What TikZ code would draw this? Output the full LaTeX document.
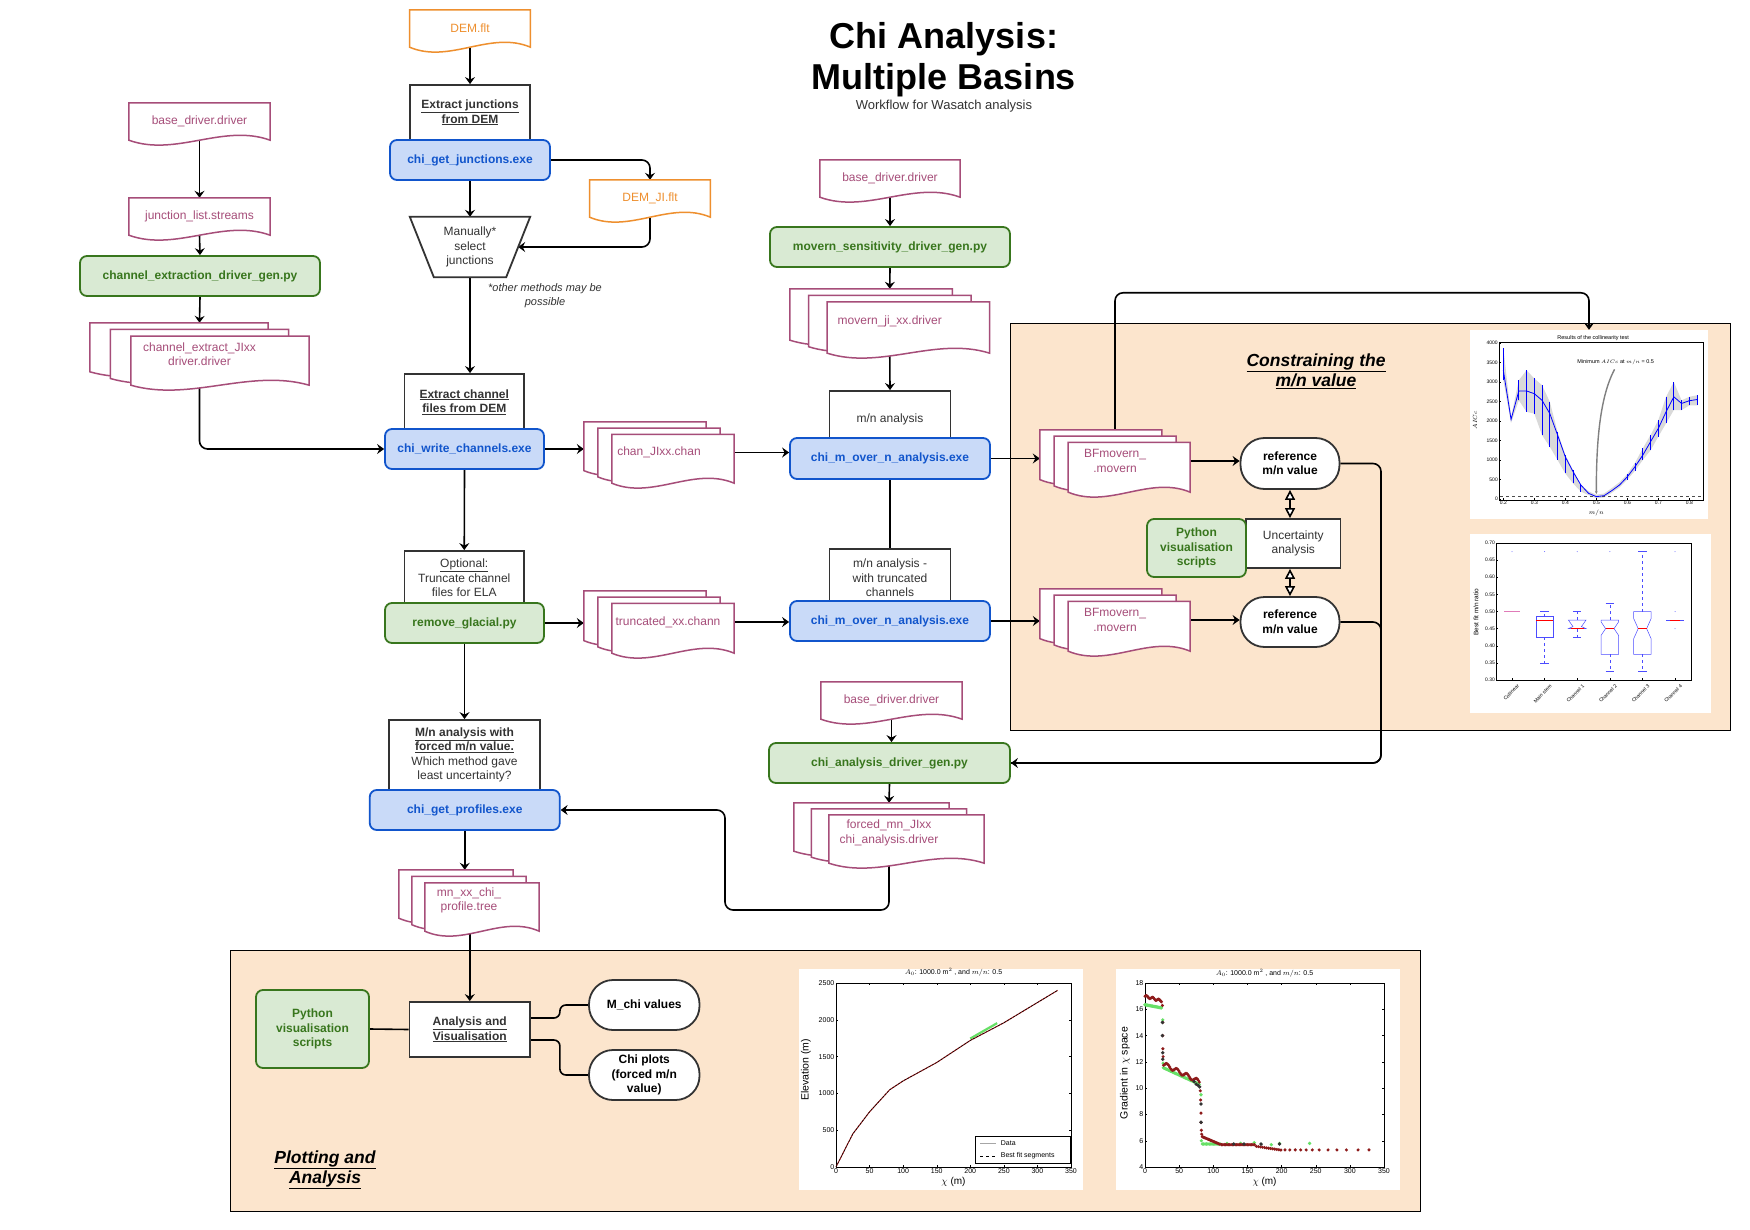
\documentclass[tikz,border=0pt]{standalone}
\usepackage{fontspec}
\setmainfont{Liberation Sans}
\usetikzlibrary{arrows.meta,calc}
\definecolor{docp}{HTML}{A64D79}
\definecolor{orng}{HTML}{EE8F2E}
\definecolor{bstr}{HTML}{1155CC}
\definecolor{bfil}{HTML}{C9DAF8}
\definecolor{gstr}{HTML}{38761D}
\definecolor{gfil}{HTML}{D9EAD3}
\definecolor{pan}{HTML}{FCE5CD}
\definecolor{ink}{HTML}{333333}
\definecolor{dred}{HTML}{8E1B1B}
\definecolor{lgreen}{HTML}{66E066}
\definecolor{pinkl}{HTML}{E07BB8}
\pgfdeclarelayer{panel}\pgfdeclarelayer{edges}\pgfdeclarelayer{shapes}
\pgfsetlayers{panel,edges,shapes,main}
\newcommand\docbox[3]{\filldraw[#3] let \p1=#1, \p2=#2 in (\x1,\y1) -- (\x2,\y1) -- (\x2,\y2) .. controls ({\x2+(\x1-\x2)/3},{\y2+17pt}) and ({\x2+2*(\x1-\x2)/3},{\y2-17pt}) .. (\x1,\y2) -- cycle;}
\newcommand\docof[2]{\begin{pgfonlayer}{shapes}\docbox{(#1.north west)}{(#1.south east)}{#2}\end{pgfonlayer}}
\newcommand\mdocof[4]{\begin{pgfonlayer}{shapes}%
\docbox{(#1.north west)}{($(#1.south east)+(-2*#2,-2*#3)$)}{#4}%
\docbox{($(#1.north west)+(#2,#3)$)}{($(#1.south east)+(-#2,-#3)$)}{#4}%
\docbox{($(#1.north west)+(2*#2,2*#3)$)}{(#1.south east)}{#4}%
\end{pgfonlayer}}
\begin{document}
\begin{tikzpicture}[x=1pt,y=-1pt,
  base/.style={inner sep=0pt, align=center, text=ink, font=\fontsize{12}{14.5}\selectfont},
  wh/.style 2 args={minimum width=#1pt, minimum height=#2pt},
  bluebox/.style={base, draw=bstr, fill=bfil, line width=1.8pt, rounded corners=7pt, text=bstr, font=\bfseries\fontsize{12}{14.5}\selectfont},
  greenbox/.style={base, draw=gstr, fill=gfil, line width=1.8pt, rounded corners=7pt, text=gstr, font=\bfseries\fontsize{12}{14.5}\selectfont},
  plainbox/.style={base, draw=ink, fill=white, line width=1.8pt},
  stadium/.style={base, draw=ink, fill=white, line width=1.8pt, rounded corners=24pt, text=black, font=\bfseries\fontsize{12}{14.5}\selectfont},
  doctext/.style={base, text=docp},
  orgtext/.style={base, text=orng},
  docline/.style={draw=docp, fill=white, line width=1.5pt},
  orgline/.style={draw=orng, fill=white, line width=1.5pt},
  conn/.style={draw=black, line width=1.6pt},
  arr/.style={conn, -{Stealth[length=7pt,width=10pt,inset=2.5pt]}},
  dbl/.style={conn, {Triangle[open,length=10pt,width=10pt,fill=white]}-{Triangle[open,length=10pt,width=10pt,fill=white]}},
  panelbox/.style={draw=black, fill=pan, line width=1pt},
  heading/.style={align=center, font=\bfseries\itshape\fontsize{17.5}{20}\selectfont, text=black},
  tk/.style={font=\fontsize{5}{6}\selectfont, inner sep=1pt},
  tk2/.style={font=\fontsize{7}{8}\selectfont, inner sep=1.5pt},
  plotbg/.style={fill=white, inner sep=0pt},
]
\useasboundingbox (0,0) rectangle (1750,1230);
\begin{pgfonlayer}{panel}
\fill[white] (0,0) rectangle (1750,1230);
\draw[panelbox] (1010.5,324) rectangle (1730,730);
\draw[panelbox] (230,950) rectangle (1420,1211);
\end{pgfonlayer}

% title
\node[anchor=base, font=\bfseries\fontsize{36}{40}\selectfont] (t1) at (944,49) {Chi Analysis:};
\node[anchor=base, font=\bfseries\fontsize{36}{40}\selectfont] (t2) at (944,90) {Multiple Basins};
\node[anchor=base, font=\fontsize{13}{15}\selectfont, text=ink] (t3) at (944,110) {Workflow for Wasatch analysis};

% left column
\node[doctext, wh={141}{37}] (bdl) at (199.5,121.5) {base\_driver.driver}; \docof{bdl}{docline}
\node[doctext, wh={141}{37}] (jls) at (199.5,216.5) {junction\_list.streams}; \docof{jls}{docline}
\node[greenbox, wh={240}{40}] (ced) at (200,276) {channel\_extraction\_driver\_gen.py};
\node[doctext, wh={219}{62}] (chx) at (199.5,354) {channel\_extract\_JIxx\\driver.driver}; \mdocof{chx}{20.5}{6.7}{docline}

% DEM column
\node[orgtext, wh={120.5}{37}] (dem) at (470,28.5) {DEM.flt}; \docof{dem}{orgline}
\node[plainbox, wh={120.5}{55}] (exj) at (470,112.5) {\textbf{\underline{Extract junctions}}\\\textbf{\underline{from DEM}}};
\node[bluebox, wh={160}{40}] (cgj) at (470,160) {chi\_get\_junctions.exe};
\node[orgtext, wh={120.5}{37}] (demji) at (650,198.5) {DEM\_JI.flt}; \docof{demji}{orgline}
\node[base, wh={96}{60}] (sel) at (470,247) {Manually*\\select\\junctions};
\begin{pgfonlayer}{shapes}
\filldraw[draw=ink, fill=white, line width=1.8pt] ($(sel.north west)+(-12,0)$) -- ($(sel.north east)+(12,0)$) -- ($(sel.south east)+(-12,0)$) -- ($(sel.south west)+(12,0)$) -- cycle;
\end{pgfonlayer}
\node[base, font=\itshape\fontsize{11}{14}\selectfont] (note) at (545,295.5) {*other methods may be\\possible};
\node[plainbox, wh={119.5}{56}] (exc) at (464.25,402) {\textbf{\underline{Extract channel}}\\\textbf{\underline{files from DEM}}};
\node[bluebox, wh={159}{40}] (cwc) at (464.5,449) {chi\_write\_channels.exe};
\node[plainbox, wh={119.5}{54}] (opt) at (464.25,578) {\underline{Optional:}\\Truncate channel\\files for ELA};
\node[greenbox, wh={159}{40}] (rg) at (464.5,623) {remove\_glacial.py};
\node[plainbox, wh={151}{70}] (mnf) at (464.5,755) {\textbf{\underline{M/n analysis with}}\\\textbf{\underline{forced m/n value.}}\\Which method gave\\least uncertainty?};
\node[bluebox, wh={190}{40}] (cgp) at (464.75,810) {chi\_get\_profiles.exe};
\node[doctext, wh={140}{61}] (mnx) at (469,900.5) {mn\_xx\_chi\_\\profile.tree}; \mdocof{mnx}{13}{6.5}{docline}

% chan column
\node[doctext, wh={150}{61}] (chan) at (659,452.5) {chan\_JIxx.chan}; \mdocof{chan}{14}{6.3}{docline}
\node[doctext, wh={150}{62}] (trc) at (659,622) {\hspace*{18pt}truncated\_xx.chann}; \mdocof{trc}{14}{6.3}{docline}

% middle column
\node[doctext, wh={140}{37}] (bdm) at (890,178.5) {base\_driver.driver}; \docof{bdm}{docline}
\node[greenbox, wh={240}{40}] (mvs) at (890,247) {movern\_sensitivity\_driver\_gen.py};
\node[doctext, wh={199.5}{64}] (mji) at (889.75,321) {movern\_ji\_xx.driver}; \mdocof{mji}{18.7}{6.5}{docline}
\node[plainbox, wh={121}{56}] (mna) at (890,419) {m/n analysis};
\node[bluebox, wh={200}{41}] (cm1) at (890,458.5) {chi\_m\_over\_n\_analysis.exe};
\node[plainbox, wh={121}{58}] (mnt) at (890,578) {m/n analysis -\\with truncated\\channels};
\node[bluebox, wh={200}{40}] (cm2) at (890,621) {chi\_m\_over\_n\_analysis.exe};
\node[doctext, wh={141}{37}] (bd3) at (891.5,700.5) {base\_driver.driver}; \docof{bd3}{docline}
\node[greenbox, wh={241}{40}] (cad) at (889.5,763) {chi\_analysis\_driver\_gen.py};
\node[doctext, wh={190}{60}] (fmn) at (889,833) {forced\_mn\_JIxx\\chi\_analysis.driver}; \mdocof{fmn}{17.5}{6}{docline}

% top panel
\node[heading] (hc) at (1316,371) {\underline{Constraining the}\\\underline{m/n value}};
\node[doctext, wh={150}{62}] (bf1) at (1115,461) {BFmovern\_\\.movern}; \mdocof{bf1}{14.2}{6.3}{docline}
\node[stadium, wh={99}{51}] (rf1) at (1290,463.5) {reference\\m/n value};
\node[plainbox, wh={94.5}{49}] (unc) at (1293.25,543.5) {Uncertainty\\analysis};
\node[greenbox, wh={99}{58}] (pv1) at (1196.5,548) {Python\\visualisation\\scripts};
\node[doctext, wh={150}{62}] (bf2) at (1115,620) {BFmovern\_\\.movern}; \mdocof{bf2}{14.2}{6.3}{docline}
\node[stadium, wh={99}{50}] (rf2) at (1290,622) {reference\\m/n value};

% bottom panel
\node[greenbox, wh={113}{78}] (pv2) at (312.5,1029) {Python\\visualisation\\scripts};
\node[plainbox, wh={120.5}{55}] (av) at (469.75,1029.5) {\textbf{\underline{Analysis and}}\\\textbf{\underline{Visualisation}}};
\node[stadium, wh={110.5}{50}] (mch) at (644.25,1005) {M\_chi values};
\node[stadium, wh={110.5}{50}] (chp) at (644.25,1075) {Chi plots\\(forced m/n\\value)};
\node[heading] (hp) at (325,1170) {\underline{Plotting and}\\\underline{Analysis}};

% plot backgrounds
\node[plotbg, wh={238}{189}] (colplot) at (1589,424.5) {};
\node[plotbg, wh={241}{179}] (boxplot) at (1590.5,623.5) {};
\node[plotbg, wh={284}{221}] (elevplot) at (941,1079.5) {};
\node[plotbg, wh={284}{221}] (gradplot) at (1258,1079.5) {};

% connectors
\begin{pgfonlayer}{edges}
\draw[arr] (dem.south) -- (exj.north);
\draw[arr] (cgj.south) -- (sel.north);
\draw[arr, rounded corners=8pt] (cgj.east) -| (demji.north);
\draw[arr, rounded corners=8pt] (demji.south) |- (sel.east);
\draw[arr] (sel.south) -- (sel.south |- exc.north);
\draw[arr] (bdl.south) -- (jls.north);
\draw[arr] (jls.south) -- (ced.north);
\draw[arr] (ced.south) -- (chx.north);
\draw[arr, rounded corners=8pt] (chx.south) |- (cwc.west);
\draw[arr] (cwc.east) -- (cwc.east -| chan.west);
\draw[arr] (chan.east) -- (chan.east -| cm1.west);
\draw[arr] (cwc.south) -- (opt.north);
\draw[arr] (rg.east) -- (rg.east -| trc.west);
\draw[arr] (trc.east) -- (trc.east -| cm2.west);
\draw[arr] (rg.south) -- (mnf.north);
\draw[arr] (bdm.south) -- (mvs.north);
\draw[arr] (mvs.south) -- (mji.north);
\draw[arr] (mji.south) -- (mna.north);
\draw[conn] (cm1.south) -- (mnt.north);
\draw[arr] (cm1.east) -- (cm1.east -| bf1.west);
\draw[arr] (cm2.east) -- (cm2.east -| bf2.west);
\draw[arr] (bf1.east) -- (bf1.east -| rf1.west);
\draw[arr] (bf2.east) -- (bf2.east -| rf2.west);
\draw[arr, rounded corners=8pt] (bf1.north) |- ($(colplot.north)+(0,-37)$) -- (colplot.north);
\coordinate (rbus) at (1381,763);
\draw[conn, rounded corners=8pt] (rf1.east) -| (rbus) -- (cad.east);
\draw[arr, rounded corners=8pt] (rf2.east) -| (rbus) -- (cad.east);
\draw[arr] (bd3.south) -- (bd3.south |- cad.north);
\draw[arr] (cad.south) -- (fmn.north);
\coordinate (fbend) at (725,910);
\draw[arr, rounded corners=8pt] (fmn.south) |- (fbend) |- (cgp.east);
\draw[arr] (cgp.south) -- (cgp.south |- mnx.north);
\draw[arr] (av.north |- mnx.south) -- (av.north);
\draw[dbl] (rf1.south) -- (rf1.south |- unc.north);
\draw[dbl] (rf2.north |- unc.south) -- (rf2.north);
\draw[conn] (pv2.east) -- (av.west);
\draw[conn, rounded corners=6pt] ($(av.east)+(0,-11.5)$) -- ++(29,0) |- (mch.west);
\draw[conn, rounded corners=6pt] ($(av.east)+(0,10.5)$) -- ++(29,0) |- (chp.west);
\end{pgfonlayer}

% collinearity plot
\begin{scope}[shift={(1441.3,499)}, x=310pt, y=0.039pt]
\fill[gray!30] plot coordinates {(0.2,3880) (0.225,2100) (0.25,3045) (0.275,3300) (0.3,3090) (0.325,2917) (0.35,2490) (0.375,1720) (0.4,1130) (0.425,740) (0.45,360) (0.475,200) (0.5,110) (0.525,140) (0.55,280) (0.575,430) (0.6,640) (0.625,930) (0.65,1300) (0.675,1640) (0.7,2020) (0.725,2620) (0.75,3000) (0.775,2530) (0.8,2620) (0.825,2660)} -- plot coordinates {(0.825,2400) (0.8,2400) (0.775,2280) (0.75,2280) (0.725,1940) (0.7,1600) (0.675,1250) (0.65,1000) (0.625,725) (0.6,500) (0.575,300) (0.55,160) (0.525,40) (0.5,20) (0.475,100) (0.45,190) (0.425,400) (0.4,655) (0.375,1000) (0.35,1340) (0.325,1637) (0.3,2190) (0.275,2235) (0.25,2530) (0.225,1950) (0.2,3045)} -- cycle;
\draw[gray!60!black, dashed, line width=0.5pt] (0.19,77) -- (0.84,77);
\draw[blue, line width=0.8pt] plot coordinates {(0.2,3300) (0.225,2040) (0.25,2770) (0.275,2770) (0.3,2700) (0.325,2530) (0.35,2190) (0.375,1640) (0.4,1080) (0.425,700) (0.45,360) (0.475,145) (0.5,60) (0.525,85) (0.55,215) (0.575,360) (0.6,570) (0.625,830) (0.65,1125) (0.675,1470) (0.7,1810) (0.725,2235) (0.75,2620) (0.775,2450) (0.8,2520) (0.825,2550)};
\foreach \m/\l/\h in {0.2/3045/3880, 0.25/2530/3045, 0.275/2235/3300, 0.3/2190/3090, 0.325/1637/2917, 0.35/1340/2490, 0.375/1000/1720, 0.4/655/1130, 0.425/400/740, 0.45/190/360, 0.6/500/640, 0.625/725/930, 0.65/1000/1300, 0.675/1250/1640, 0.7/1600/2020, 0.725/1940/2620, 0.75/2280/3000, 0.775/2280/2530, 0.8/2400/2620, 0.825/2400/2660}
  \draw[blue, line width=0.8pt] (\m,\l) -- (\m,\h);
\draw[line width=0.5pt] (0.186,-25) rectangle (0.844,4020);
\foreach \v in {0,500,...,4000} {\draw[line width=0.3pt] (0.186,\v) -- ++(2pt,0); \node[tk, anchor=east] at (0.186,\v) {\v};}
\foreach \m in {0.2,0.3,0.4,0.5,0.6,0.7,0.8} {\draw[line width=0.3pt] (\m,-25) -- ++(0,2pt); \node[tk, anchor=north] at (\m,-25) {\m};}
\node[tk, font=\fontsize{5.5}{6}\selectfont] at (0.49,4120) {Results of the collinearity test};
\node[tk, font=\fontsize{6}{7}\selectfont] at (0.5,-360) {$m/n$};
\node[tk, rotate=90, font=\fontsize{6.5}{7}\selectfont] at (0.109,2020) {$AICc$};
\draw[gray, line width=1.4pt, -{Latex[length=3pt,width=3pt]}] (0.559,3325) .. controls (0.51,2600) and (0.5,1400) .. (0.5,120);
\node[tk, font=\fontsize{5.5}{6}\selectfont] at (0.5625,3505) {Minimum $AICc$ at $m/n$ = 0.5};
\end{scope}

% box plot
\begin{scope}[shift={(1479.4,782.75)}, x=32.6pt, y=342.5pt]
\draw[line width=0.5pt] (0.51,0.3) rectangle (6.49,0.7);
\foreach \v in {0.30,0.35,0.40,0.45,0.50,0.55,0.60,0.65,0.70} {\draw[line width=0.3pt] (0.51,\v) -- ++(2pt,0); \node[tk,anchor=east] at (0.51,\v) {\v};}
\foreach \i/\t in {1/Collinear,2/Main stem,3/Channel 1,4/Channel 2,5/Channel 3,6/Channel 4} {\draw[line width=0.3pt] (\i,0.3) -- ++(0,2pt); \node[tk, anchor=north east, rotate=45, inner sep=0.3pt] at (\i+0.15,0.29) {\t};}
\node[tk, rotate=90, font=\fontsize{6.5}{7}\selectfont] at (-0.1,0.4985) {Best fit m/n ratio};
\draw[pinkl, line width=0.8pt] (0.76,0.5) -- (1.26,0.5);
% main stem
\draw[blue!70, line width=0.5pt] (1.73,0.425) rectangle (2.27,0.485);
\draw[blue!70, dashed, line width=0.4pt] (2,0.425) -- (2,0.35) (2,0.485) -- (2,0.5);
\draw[blue!70, line width=0.4pt] (1.87,0.35) -- (2.13,0.35) (1.87,0.5) -- (2.13,0.5);
\draw[red, line width=0.8pt] (1.73,0.475) -- (2.27,0.475);
% channel 1
\draw[blue!70, line width=0.5pt] (2.73,0.475) -- (3.27,0.475) -- (3.13,0.456) -- (3.27,0.45) -- (2.73,0.45) -- (2.87,0.456) -- cycle;
\draw[blue!70, dashed, line width=0.4pt] (3,0.45) -- (3,0.425) (3,0.475) -- (3,0.5);
\draw[blue!70, line width=0.4pt] (2.87,0.425) -- (3.13,0.425) (2.87,0.5) -- (3.13,0.5);
\draw[red, line width=0.8pt] (2.8,0.452) -- (3.2,0.452);
% channel 2
\draw[blue!70, line width=0.5pt] (3.73,0.375) -- (3.73,0.43) -- (3.87,0.45) -- (3.73,0.47) -- (3.73,0.475) -- (4.27,0.475) -- (4.27,0.47) -- (4.13,0.45) -- (4.27,0.43) -- (4.27,0.375) -- cycle;
\draw[blue!70, dashed, line width=0.4pt] (4,0.375) -- (4,0.325) (4,0.475) -- (4,0.525);
\draw[blue!70, line width=0.4pt] (3.87,0.325) -- (4.13,0.325) (3.87,0.525) -- (4.13,0.525);
\draw[red, line width=0.8pt] (3.87,0.45) -- (4.13,0.45);
% channel 3
\draw[blue!70, line width=0.5pt] (4.73,0.375) -- (4.73,0.42) -- (4.87,0.45) -- (4.73,0.48) -- (4.73,0.5) -- (5.27,0.5) -- (5.27,0.48) -- (5.13,0.45) -- (5.27,0.42) -- (5.27,0.375) -- cycle;
\draw[blue!70, dashed, line width=0.4pt] (5,0.375) -- (5,0.325) (5,0.5) -- (5,0.675);
\draw[blue!70, line width=0.4pt] (4.87,0.325) -- (5.13,0.325) (4.87,0.675) -- (5.13,0.675);
\draw[red, line width=0.8pt] (4.87,0.45) -- (5.13,0.45);
% channel 4
\draw[blue!70, line width=0.8pt] (5.73,0.475) -- (6.27,0.475);
\draw[red, line width=0.8pt] (5.85,0.475) -- (6.15,0.475);
\foreach \p in {(1,0.675),(2,0.675),(3,0.675),(4,0.675),(6,0.675),(6,0.45),(6,0.5)} \fill[blue!60] \p circle[radius=0.5pt];
\end{scope}

% elevation plot
\begin{scope}[shift={(836,1167)}, x=0.6714pt, y=0.0736pt]
\draw[line width=0.5pt] (0,0) rectangle (350,2500);
\foreach \v in {0,500,...,2500} {\draw[line width=0.3pt] (0,\v) -- ++(2pt,0) (350,\v) -- ++(-2pt,0); \node[tk2,anchor=east] at (0,\v) {\v};}
\foreach \c in {0,50,...,350} {\draw[line width=0.3pt] (\c,0) -- ++(0,2pt) (\c,2500) -- ++(0,-2pt); \node[tk2,anchor=north] at (\c,0) {\c};}
\draw[lgreen, line width=2.2pt] (200,1745) -- (240,1955);
\draw[dred, line width=1pt] plot coordinates {(0,0) (25,450) (50,750) (80,1050) (100,1170) (150,1420) (200,1720) (250,1960) (330,2400)};
\draw[black, line width=0.5pt, dash pattern=on 2pt off 1.5pt] plot coordinates {(0,0) (25,450) (50,750) (80,1050) (100,1170) (150,1420) (200,1720) (250,1960) (330,2400)};
\draw[line width=0.4pt, fill=white] (208,54) rectangle (349,421);
\draw[gray!70, line width=1pt] (215,326) -- (238,326); \node[tk2, anchor=west] at (243,326) {Data};
\draw[black, dashed, line width=0.8pt] (215,150) -- (238,150); \node[tk2, anchor=west] at (243,150) {Best fit segments};
\node[tk2] at (175,2640) {$A_0$: 1000.0 m$^2$ , and $m/n$: 0.5};
\node[font=\fontsize{10}{11}\selectfont] at (175,-200) {$\chi$ (m)};
\node[font=\fontsize{10.5}{11}\selectfont, rotate=90] at (-44.7,1318) {Elevation (m)};
\end{scope}

% gradient plot
\begin{scope}[shift={(1145,1219.56)}, x=0.6829pt, y=13.14pt]
\draw[line width=0.5pt] (0,4) rectangle (350,18);
\foreach \v in {4,6,...,18} {\draw[line width=0.3pt] (0,\v) -- ++(2pt,0) (350,\v) -- ++(-2pt,0); \node[tk2,anchor=east] at (0,\v) {\v};}
\foreach \c in {0,50,...,350} {\draw[line width=0.3pt] (\c,4) -- ++(0,2pt) (\c,18) -- ++(0,-2pt); \node[tk2,anchor=north] at (\c,4) {\c};}
\foreach \c in {0,1.2,...,24} \fill[lgreen] (\c,{16.35-0.01*\c}) circle[radius=1.8pt];
\foreach \c in {27,28.5,...,80} \fill[lgreen] (\c,{11.55-0.024*(\c-27)}) circle[radius=1.8pt];
\foreach \c in {84,86,...,110} \fill[lgreen] (\c,5.75) circle[radius=1.8pt];
\foreach \p in {(26,15.2),(26.5,11.9),(82,9.5),(82.5,6.0),(160,5.85),(185,5.7),(241,5.8),(197,5.8),(120,5.8),(140,5.8)} \fill[lgreen] \p circle[radius=1.8pt];
\foreach \c in {0,1.2,...,24} \fill[dred] (\c,{17-0.015*\c+0.08*sin(\c*40)}) circle[radius=1.7pt];
\foreach \p in {(25.5,16.3),(26,15.0),(26,14.0),(26.2,13.0),(26.5,12.4),(81,9.8),(81.5,9.1),(82,8.1),(82,7.4),(82.5,6.8),(83,6.5)} \fill[dred] \p circle[radius=1.7pt];
\foreach \c in {27,28.5,...,80} \fill[dred] (\c,{11.85-0.026*(\c-27)+0.15*sin(\c*25)}) circle[radius=1.7pt];
\foreach \c in {84,85.5,...,110} \fill[dred] (\c,{6.3-0.022*(\c-84)}) circle[radius=1.7pt];
\foreach \c in {112,114,...,160} \fill[dred] (\c,5.7) circle[radius=1.7pt];
\foreach \c in {163,166,...,200} \fill[dred] (\c,{5.6-0.008*(\c-160)}) circle[radius=1.7pt];
\foreach \c in {205,212,220,228,236,245,255,268,281,295,312,328} \fill[dred] (\c,5.3) circle[radius=1.7pt];
\foreach \p in {(25.5,15),(25.5,14),(26,12.7),(26,12.2),(72,10.5),(75,10.3),(78,10.2),(80,10.1),(82,8.8),(82,7.4),(130,5.75),(145,5.75),(170,5.75),(197,5.75)} \fill[ink] \p circle[radius=1.9pt];
\node[tk2] at (175,18.76) {$A_0$: 1000.0 m$^2$ , and $m/n$: 0.5};
\node[font=\fontsize{10}{11}\selectfont] at (175,2.85) {$\chi$ (m)};
\node[font=\fontsize{10.5}{11}\selectfont, rotate=90] at (-29.3,11.15) {Gradient in $\chi$ space};
\end{scope}
\end{tikzpicture}
\end{document}
